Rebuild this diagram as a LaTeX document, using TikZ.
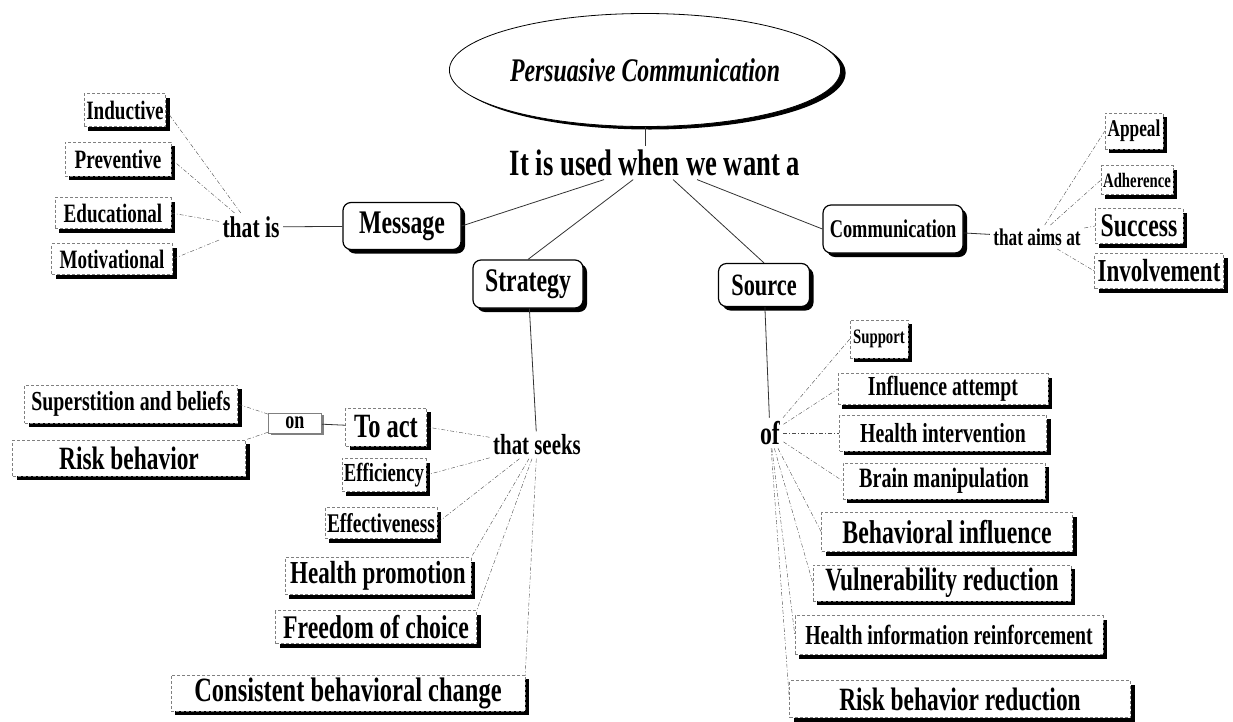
\documentclass[tikz,border=0pt]{standalone}
\usepackage{fontspec}
\setmainfont{Liberation Serif}[FakeStretch=0.72]
\usetikzlibrary{shapes.geometric,shadows}

\begin{document}
\begin{tikzpicture}[x=1pt,y=-1pt,
  fs/.style={font=\bfseries\fontsize{#1}{#1}\selectfont},
  boxshadow/.style={drop shadow={shadow xshift=4pt,shadow yshift=-4pt,fill=black,opacity=1}},
  topic/.style={draw,line width=1.2pt,rounded corners=8pt,fill=white,boxshadow,inner sep=2pt},
  leaf/.style={draw=gray,densely dashed,fill=white,boxshadow,inner sep=2pt},
  dashlink/.style={draw=gray!60!black,dash pattern=on 4pt off 2pt on 1pt off 2pt},
  solidlink/.style={draw=black!80,line width=0.8pt}]
\useasboundingbox (0,0) rectangle (1233,721);

\node[ellipse,draw,line width=0.8pt,fill=white,minimum width=301pt,minimum height=113pt,
  drop shadow={shadow xshift=5pt,shadow yshift=-3pt,fill=black,opacity=1},
  font=\bfseries\itshape\fontsize{33}{33}\selectfont] (pc) at (645,70) {Persuasive Communication};
\node[fs=37] (want) at (655,163) {It is used when we want a};

\node[topic,fs=33,minimum width=118pt,minimum height=47pt] (message) at (402,226) {Message};
\node[topic,fs=33,minimum width=110pt,minimum height=48pt] (strategy) at (528,284) {Strategy};
\node[topic,fs=31,minimum width=91pt,minimum height=43pt] (source) at (764,285) {Source};
\node[topic,fs=25.5,minimum width=140pt,minimum height=48pt] (comm) at (893,229) {Communication};

\node[fs=30] (thatis) at (251,227) {that is};
\node[leaf,fs=26.5,minimum width=81pt,minimum height=33pt] (induct) at (125,110) {Inductive};
\node[leaf,fs=26.5,minimum width=106pt,minimum height=34pt] (prevent) at (118,159) {Preventive};
\node[leaf,fs=26.5,minimum width=116pt,minimum height=31pt] (educ) at (113,213) {Educational};
\node[leaf,fs=26.5,minimum width=121pt,minimum height=31pt] (motiv) at (112,259) {Motivational};

\node[fs=24] (aims) at (1037,237) {that aims at};
\node[leaf,fs=24,minimum width=58pt,minimum height=36pt] (appeal) at (1134,131) {Appeal};
\node[leaf,fs=20.5,minimum width=71pt,minimum height=29pt] (adher) at (1137,180) {Adherence};
\node[leaf,fs=33,minimum width=88pt,minimum height=35pt] (success) at (1139,226) {Success};
\node[leaf,fs=32,minimum width=129pt,minimum height=35pt] (involv) at (1159,271) {Involvement};

\node[fs=29] (seeks) at (537,445) {that seeks};
\node[leaf,fs=34,minimum width=81pt,minimum height=38pt] (toact) at (386,427) {To act};
\node[leaf,fs=26,minimum width=81pt,minimum height=33pt] (effic) at (384,475) {Efficiency};
\node[leaf,fs=27,minimum width=109pt,minimum height=31pt] (effect) at (381,523) {Effectiveness};
\node[leaf,fs=32,minimum width=186pt,minimum height=37pt] (healthp) at (378,576) {Health promotion};
\node[leaf,fs=33,minimum width=201pt,minimum height=33pt] (freedom) at (376,627) {Freedom of choice};
\node[leaf,fs=34,minimum width=354pt,minimum height=36pt] (consist) at (348,693) {Consistent behavioral change};
\node[draw=gray,line width=1pt,fill=white,fs=25,minimum width=53pt,minimum height=20pt,inner sep=2pt,
  drop shadow={shadow xshift=2pt,shadow yshift=-2pt,fill=gray,opacity=1}] (on) at (295,423) {on};
\node[leaf,fs=27.5,minimum width=213pt,minimum height=38pt] (super) at (131,404) {Superstition and beliefs};
\node[leaf,fs=32.5,minimum width=233pt,minimum height=36pt] (riskb) at (129,458) {Risk behavior};

\node[fs=33] (of) at (770,433) {of};
\node[leaf,fs=20.5,minimum width=58pt,minimum height=38pt] (support) at (879,339) {Support};
\node[leaf,fs=27.5,minimum width=210pt,minimum height=31pt] (influ) at (943,389) {Influence attempt};
\node[leaf,fs=27.5,minimum width=207pt,minimum height=36pt] (hinterv) at (943,433) {Health intervention};
\node[leaf,fs=28,minimum width=202pt,minimum height=36pt] (brain) at (944,481) {Brain manipulation};
\node[leaf,fs=33,minimum width=251pt,minimum height=39pt] (behinf) at (947,532) {Behavioral influence};
\node[leaf,fs=32.5,minimum width=258pt,minimum height=36pt] (vulner) at (942,583) {Vulnerability reduction};
\node[leaf,fs=27.5,minimum width=308pt,minimum height=39pt] (hinfo) at (949,635) {Health information reinforcement};
\node[leaf,fs=32.5,minimum width=341pt,minimum height=37pt] (riskred) at (960,699) {Risk behavior reduction};

\draw[solidlink] (pc.south) -- (pc.south |- want.north);
\draw[solidlink] (want) -- (message.east);
\draw[solidlink] (want) -- (strategy.north);
\draw[solidlink] (want) -- (source.north);
\draw[solidlink] (want) -- (comm.west);
\draw[solidlink] (thatis) -- (message);
\draw[solidlink] (comm) -- (aims);
\draw[solidlink] (strategy) -- (seeks);
\draw[solidlink] (source) -- (of);
\draw[solidlink] (on) -- (toact);

\foreach \n in {induct,prevent,educ,motiv}
  \draw[dashlink] (thatis) -- (\n.east);
\foreach \n in {appeal,adher,success,involv}
  \draw[dashlink] (aims) -- (\n.west);
\foreach \n in {toact,effic,effect}
  \draw[dashlink] (seeks) -- (\n.east);
\foreach \n in {healthp,freedom,consist}
  \draw[dashlink] (seeks) -- (\n.north east);
\draw[dashlink] (on) -- (super.east);
\draw[dashlink] (on) -- (riskb.north east);
\foreach \n in {support,influ,hinterv,brain,behinf,vulner,hinfo,riskred}
  \draw[dashlink] (of) -- (\n.west);
\end{tikzpicture}
\end{document}
